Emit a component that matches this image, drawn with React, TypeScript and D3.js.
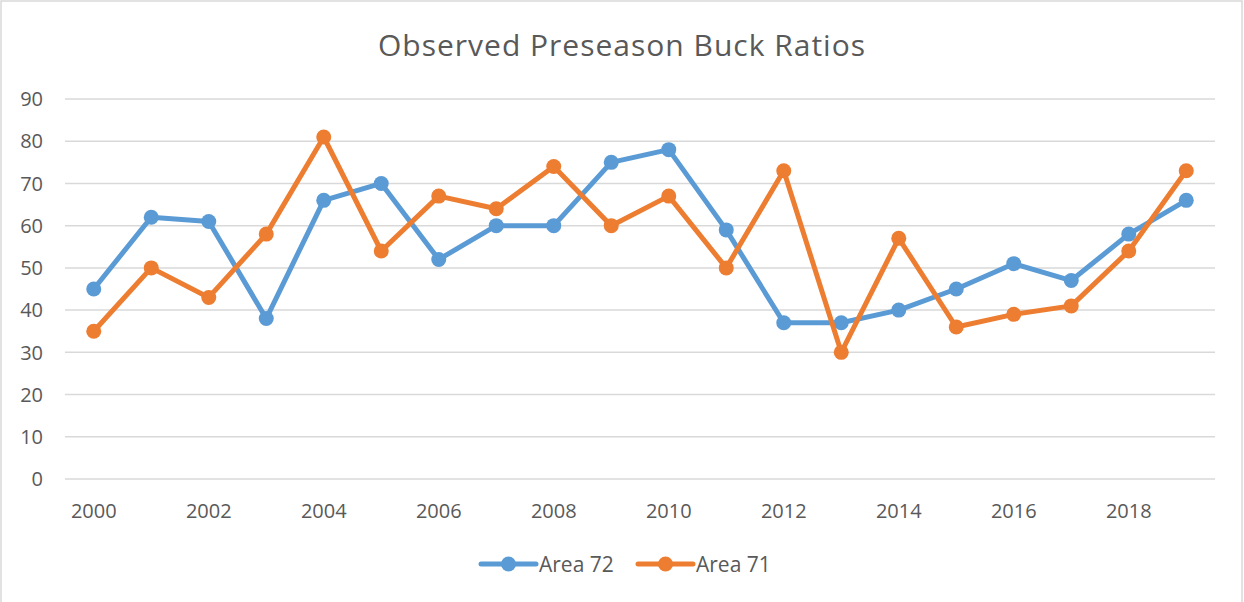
import * as d3 from "d3";

const years = d3.range(2000, 2020);
const tickYears = [2000, 2002, 2004, 2006, 2008, 2010, 2012, 2014, 2016, 2018];
const yTicks = [0, 10, 20, 30, 40, 50, 60, 70, 80, 90];

const area72 = [45, 62, 61, 38, 66, 70, 52, 60, 60, 75, 78, 59, 37, 37, 40, 45, 51, 47, 58, 66];
const area71 = [35, 50, 43, 58, 81, 54, 67, 64, 74, 60, 67, 50, 73, 30, 57, 36, 39, 41, 54, 73];

const series = [
  { name: "Area 72", values: area72, color: "#5B9BD5" },
  { name: "Area 71", values: area71, color: "#ED7D31" },
];

const W = 1244;
const H = 602;
const margin = { top: 99, right: 29, bottom: 122, left: 65 };
const font = "'Open Sans', sans-serif";
const textColor = "#595959";

export default function App() {
  const x = d3
    .scaleBand<number>()
    .domain(years)
    .range([margin.left, W - margin.right])
    .padding(0);
  const y = d3
    .scaleLinear()
    .domain([0, 90])
    .range([H - margin.bottom - 1, margin.top]);

  const cx = (yr: number) => (x(yr) ?? 0) + x.bandwidth() / 2;

  const line = d3
    .line<number>()
    .x((_, i) => cx(years[i]))
    .y((d) => y(d));

  // legend layout
  const legendY = 564;
  const legendItems = [
    { ...series[0], x0: 481 },
    { ...series[1], x0: 638 },
  ];

  return (
    <div style={{ position: "fixed", left: 0, top: 0 }}>
      <svg width={W} height={H} style={{ display: "block", fontFamily: font }}>
        <rect x={0} y={0} width={W} height={H} fill="#fff" />
        <rect x={1} y={1} width={1241} height={H + 10} fill="none" stroke="#D9D9D9" strokeWidth={1.5} />

        <text
          x={622}
          y={56}
          textAnchor="middle"
          fontSize={30}
          letterSpacing={1}
          fill={textColor}
        >
          Observed Preseason Buck Ratios
        </text>

        {yTicks.map((t) => (
          <g key={t}>
            <line
              x1={margin.left}
              x2={W - margin.right}
              y1={y(t)}
              y2={y(t)}
              stroke="#D9D9D9"
              strokeWidth={1.5}
            />
            <text
              x={43}
              y={y(t)}
              dy="0.36em"
              textAnchor="end"
              fontSize={20}
              fill={textColor}
            >
              {t}
            </text>
          </g>
        ))}

        {tickYears.map((yr) => (
          <text
            key={yr}
            x={cx(yr)}
            y={518}
            textAnchor="middle"
            fontSize={20}
            fill={textColor}
          >
            {yr}
          </text>
        ))}

        {series.map((s) => (
          <g key={s.name}>
            <path
              d={line(s.values) ?? ""}
              fill="none"
              stroke={s.color}
              strokeWidth={5}
              strokeLinejoin="round"
              strokeLinecap="round"
            />
            {s.values.map((v, i) => (
              <circle key={i} cx={cx(years[i])} cy={y(v)} r={7.5} fill={s.color} />
            ))}
          </g>
        ))}

        {legendItems.map((s) => (
          <g key={s.name}>
            <line
              x1={s.x0}
              x2={s.x0 + 55}
              y1={legendY}
              y2={legendY}
              stroke={s.color}
              strokeWidth={5}
              strokeLinecap="round"
            />
            <circle cx={s.x0 + 27.5} cy={legendY} r={7.5} fill={s.color} />
            <text x={s.x0 + 58} y={legendY} dy="0.36em" fontSize={21} fill={textColor}>
              {s.name}
            </text>
          </g>
        ))}
      </svg>
    </div>
  );
}
